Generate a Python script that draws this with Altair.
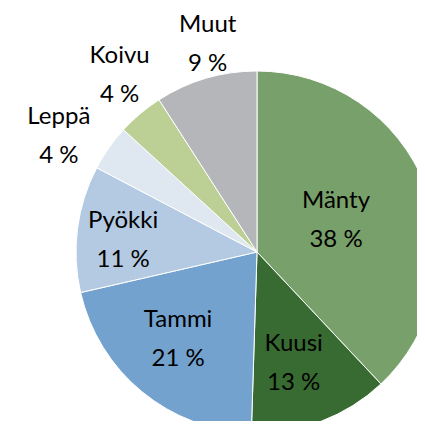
import altair as alt
import pandas as pd
import math

categories = ["Mänty", "Kuusi", "Tammi", "Pyökki", "Leppä", "Koivu", "Muut"]
shares = [38.0, 12.5, 20.9, 11.3, 4.1, 4.1, 9.1]
labels = ["38 %", "13 %", "21 %", "11 %", "4 %", "4 %", "9 %"]
colors = ["#78A06A", "#386B32", "#74A2CE", "#B3CAE2", "#DFE7F1", "#BCCF95", "#B4B6B9"]

df = pd.DataFrame({
    "laji": categories,
    "osuus": shares,
    "idx": list(range(len(categories))),
    "teksti": [f"{c}\n{l}" for c, l in zip(categories, labels)],
})

CX, CY, R = 249, 244, 181

arcs = alt.Chart(df).mark_arc(radius=R, stroke="white", strokeWidth=1).encode(
    theta=alt.Theta("osuus:Q", stack=True),
    order=alt.Order("idx:Q"),
    color=alt.Color("laji:N", scale=alt.Scale(domain=categories, range=colors), legend=None),
    x=alt.value(CX),
    y=alt.value(CY),
)

# label placement: (radius, dx, dy) per slice
placement = {
    "Mänty": (85, 0, -20),
    "Kuusi": (118, -5, -18),
    "Tammi": (118, -4, -23),
    "Pyökki": (134, -1, -14),
    "Leppä": (230, -10, -3),
    "Koivu": (224, 7, -25),
    "Muut": (214, 11, -22),
}

text_base = alt.Chart(df).transform_window(
    cum="sum(osuus)", sort=[alt.SortField("idx")], frame=[None, 0]
).transform_joinaggregate(
    total="sum(osuus)"
).transform_calculate(
    mid=f"(datum.cum - datum.osuus / 2) / datum.total * {2 * math.pi}"
)

layers = [arcs]
for cat in categories:
    r, dx, dy = placement[cat]
    layers.append(
        text_base.mark_text(
            radius=r, dx=dx, dy=dy, font="Lato", fontSize=24, lineBreak="\n",
            lineHeight=39, color="black", align="center", baseline="middle",
        ).encode(
            theta=alt.Theta("mid:Q", scale=None),
            text="teksti:N",
            x=alt.value(CX),
            y=alt.value(CY),
        ).transform_filter(alt.datum.laji == cat)
    )

chart = alt.layer(*layers).properties(
    width=409, height=413, padding=0,
    autosize=alt.AutoSizeParams(type="none"),
).configure_view(stroke=None)

chart.save("out.html", embed_options={"renderer": "svg", "actions": False})
